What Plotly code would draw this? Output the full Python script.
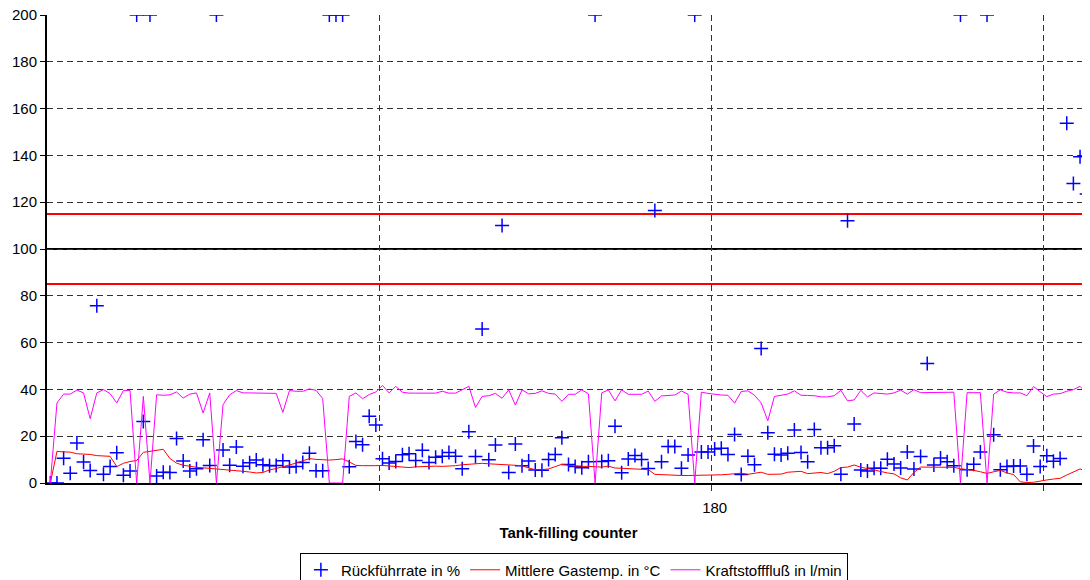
import plotly.graph_objects as go

# tank-filling counter (category axis, one point per filling)
counter = list(range(80, 238))

rueckfuehrrate = [
    0, 0, 10.6, 4.2, 17.1, 9, 5.3, 75.8, 3.7, 7,
    12.9, 3.3, 5.1, 200, 26.3, 200, 3, 4.6, 4.5, 19,
    9.4, 5.1, 6.1, 18.5, 7.5, 200, 14.1, 7.6, 15.4, 7.2,
    8.7, 9.8, 7.8, 7.4, 7.5, 9.5, 6.8, 7, 8.8, 12.7,
    5.2, 5.2, 200, 200, 200, 6.9, 17.7, 16.3, 28.5, 24.8,
    10.4, 8.5, 9.2, 12.1, 12.5, 9.6, 14, 8.8, 11, 11.4,
    13, 11.4, 6.1, 21.9, 11.3, 65.8, 9.9, 16.2, 110, 4.5,
    16.7, 7.4, 9.4, 5.6, 5.5, 10, 12.2, 19.3, 7.9, 7.1,
    6.5, 9.1, 200, 9.2, 9.5, 24.2, 4.4, 10.3, 11.7, 10,
    6.2, 116.4, 9.1, 15.6, 15.6, 6.3, 12, 200, 13.3, 13.3,
    14.5, 14.8, 12.2, 20.7, 3.6, 11.4, 7.8, 57.5, 21.5, 12.3,
    12, 12.7, 22.6, 13, 9.1, 22.9, 15.1, 15.1, 15.9, 3.7,
    112.1, 25.2, 5.6, 5.1, 6.3, 6.3, 10.2, 8.1, 6.4, 13.3,
    6, 11.3, 51.1, 7.7, 10.7, 9.1, 7.4, 200, 5.7, 8,
    13.2, 200, 20.6, 5.7, 7, 7.3, 7.3, 3.7, 15.8, 7,
    11.6, 9.3, 10.5, 153.7, 128, 139.4, 123.5, 127,
]

gastemp = [
    0, 13.5, 13.3, 13.2, 12.5, 12.4, 12.2, 11.7, 11.6, 11.4,
    7, 8.4, 9.2, 9.6, 13.1, 13.5, 13.8, 14.4, 10.5, 8.5,
    7.6, 7, 6.7, 6.5, 6.3, 6.1, 5.8, 5.6, 5.3, 5,
    4.7, 4.3, 4.5, 5.6, 6.2, 6.9, 7.5, 8.5, 9.5, 10.4,
    10.1, 9.9, 9.8, 10, 10.3, 9, 7.5, 7.4, 7.3, 7.4,
    7.5, 7.3, 7.1, 6.8, 6.6, 6.9, 7.1, 7.1, 7.2, 7.1,
    7.2, 7.4, 7.8, 8.1, 8.2, 8.4, 8.2, 8, 7.8, 7.8,
    7.6, 7.4, 6.4, 5.7, 5.7, 6, 7, 8, 7.5, 7.2,
    7.1, 7.1, 7, 6.8, 7.2, 6.4, 6.3, 6.2, 6, 5.9,
    5.7, 3.7, 3.5, 3.3, 3.2, 3.2, 3.2, 3.2, 3.3, 3.3,
    3.2, 3.5, 3.7, 3.8, 4.2, 3.7, 4, 4.6, 3.7, 3.7,
    3.8, 4.6, 4.9, 5, 4, 4.2, 4.5, 4, 5, 6.6,
    6.8, 7.7, 6.7, 6.2, 5.5, 4.8, 4.3, 3.9, 2.2, 1.3,
    4.5, 6.8, 6.8, 6.8, 6.8, 6.8, 6.7, 6.1, 5.8, 5.4,
    4.8, 4.1, 4.8, 5.4, 4.3, 3.6, 0.5, 0.2, 0.3, 0.9,
    1.3, 1.7, 2, 3.4, 4.6, 6, 5, 4.8,
]

kraftstofffluss = [
    0, 34.2, 38, 38, 39.7, 38.5, 27.5, 38.5, 39.9, 38.2,
    34.2, 39.5, 39.5, 0, 37, 0, 37.7, 37.5, 37.7, 38.9,
    36.3, 38, 38.5, 29.9, 38.5, 0, 33.5, 37.7, 39.5, 38.5,
    38.5, 38.5, 38.5, 38.4, 38.3, 30.2, 39.5, 39.2, 39.2, 40.2,
    39.6, 36.1, 0, 0, 0, 37, 38.5, 36, 37.8, 38.9,
    41.7, 38.5, 41.3, 38.8, 38.4, 38.4, 38.4, 38.4, 38.4, 39.2,
    38.4, 38.4, 39.9, 41.3, 32.3, 37, 37.3, 38.3, 36.2, 39.8,
    33.3, 39.8, 38.1, 38.3, 39.4, 38.3, 38, 34.9, 37.9, 37.9,
    39.8, 38.1, 0, 38.5, 39.8, 35.1, 39.8, 37.9, 37.9, 37.9,
    39.3, 34.9, 37.2, 37.3, 37.6, 39.3, 37.9, 0, 38.8, 38.3,
    37.9, 37.6, 37.5, 34.1, 39.1, 39.4, 37.5, 34.2, 26.6, 37,
    37.5, 38, 39.4, 37.5, 37.4, 37.3, 36.8, 36.8, 37.3, 39.6,
    35.1, 35.5, 39.6, 36.8, 38.5, 38.2, 38, 38.5, 39.7, 38,
    39.9, 38.6, 38.6, 38.6, 38.6, 38.6, 38.8, 0, 38.6, 38.6,
    38.6, 0, 38, 39.8, 38.8, 38.5, 38.5, 37.3, 41.2, 39,
    36.9, 38, 38.2, 39.2, 39.9, 41.3, 38.4, 38.3,
]

# reference lines
sollwert = 100
toleranz = [85, 115]

# category gridlines (every 50 fillings) and the single labelled tick
grid_x = [129.5, 179.5, 229.5]
label_x = [180]
label_text = ["180"]

font = "Liberation Sans, Arial, sans-serif"

fig = go.Figure()

fig.add_trace(go.Scatter(
    x=counter, y=rueckfuehrrate, mode="markers", name="Rückführrate in %",
    marker=dict(symbol="cross-thin", size=10, color="#0000FF",
                line=dict(color="#0000FF", width=1.5)),
))
fig.add_trace(go.Scatter(
    x=counter, y=gastemp, mode="lines", name="Mittlere Gastemp. in °C",
    line=dict(color="#FF0000", width=1),
))
fig.add_trace(go.Scatter(
    x=counter, y=kraftstofffluss, mode="lines", name="Kraftstofffluß in l/min",
    line=dict(color="#FF00FF", width=1),
))

fig.add_hline(y=sollwert, line=dict(color="black", width=2), layer="below")
for t in toleranz:
    fig.add_hline(y=t, line=dict(color="#FF0000", width=2), layer="below")

# the page body has an 8px margin, so the figure is drawn 8px smaller;
# legend is placed in container coordinates so it doesn't shrink the plot
fig.update_layout(
    width=1082, height=572,
    margin=dict(l=39, r=0, t=7, b=97),
    paper_bgcolor="white", plot_bgcolor="white",
    font=dict(family=font, size=15, color="black"),
    showlegend=True,
    legend=dict(
        orientation="h", xref="container", yref="container",
        x=0.523, xanchor="center", y=0.048, yanchor="top",
        bordercolor="black", borderwidth=1, bgcolor="white",
        font=dict(size=15), itemwidth=30,
    ),
)

fig.update_xaxes(
    range=[79.5, 236.5], automargin=False,
    tickmode="array", tickvals=label_x, ticktext=label_text,
    ticks="", ticklabelstandoff=10, showgrid=False, zeroline=False,
    showline=True, linecolor="black", linewidth=2,
    tickfont=dict(size=15),
    minor=dict(tickmode="array", tickvals=grid_x, ticks="outside", ticklen=6,
               tickcolor="#333333", showgrid=True, gridcolor="#333333",
               griddash="6px,4px", gridwidth=1),
    title=dict(text="<b>Tank-filling counter</b>", font=dict(size=15), standoff=12),
)

fig.update_yaxes(
    range=[0, 200], dtick=20, tick0=0, automargin=False,
    ticklabeloverflow="allow",
    showgrid=True, gridcolor="#333333", griddash="6px,4px", gridwidth=1,
    zeroline=False, showline=True, linecolor="black", linewidth=2,
    ticks="outside", ticklen=5, tickcolor="black",
    tickfont=dict(size=15),
)

fig.write_html("out.html")
